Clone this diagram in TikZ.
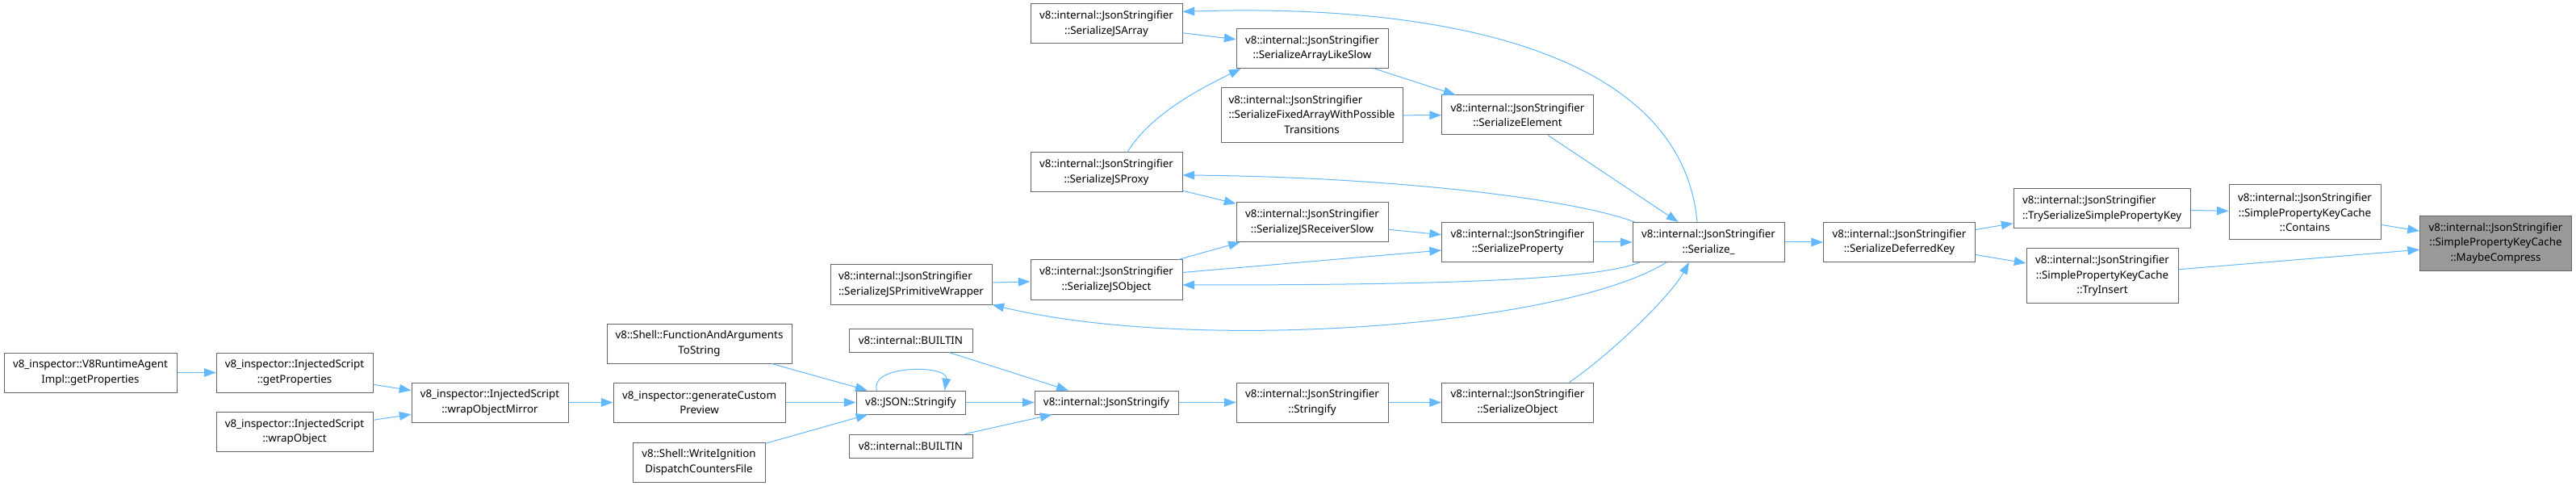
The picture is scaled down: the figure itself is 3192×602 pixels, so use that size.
\documentclass[tikz,border=0pt]{standalone}
\usepackage{fontspec}
\setmainfont{Noto Sans}
\usepackage{xcolor}
\usepackage{tikz}
\usetikzlibrary{arrows.meta,calc}

\definecolor{edgeblue}{HTML}{63B8FF}
\definecolor{boxgray}{HTML}{666666}
\definecolor{markgray}{HTML}{999999}

\begin{document}
\begin{tikzpicture}[
            x=0.75pt, y=-0.75pt,
            every node/.style={font=\fontsize{10}{14}\selectfont},
            nd/.style={draw=boxgray, fill=white, line width=0.75pt, align=center, inner sep=2pt, minimum width=141pt, minimum height=36.75pt},
            one/.style={minimum height=21.75pt},
            three/.style={minimum height=51pt},
            cur/.style={fill=markgray},
            ln/.style={draw=edgeblue, line width=0.75pt, -{Triangle[length=11pt,width=8pt]}},
        ]
            \useasboundingbox (0,0) rectangle (3192,602);
            % inspector / shell callers
            \node[nd, minimum width=160.5pt] (rta) at (112,461.5) {v8\_inspector::V8RuntimeAgent\\Impl::getProperties};
            \node[nd, minimum width=145.5pt] (isgp) at (365,461.5) {v8\_inspector::InjectedScript\\::getProperties};
            \node[nd, minimum width=145.5pt] (iswo) at (365,535) {v8\_inspector::InjectedScript\\::wrapObject};
            \node[nd, minimum width=145.5pt] (iswom) at (607,498.5) {v8\_inspector::InjectedScript\\::wrapObjectMirror};
            \node[nd, minimum width=171.75pt] (fats) at (866.5,425.5) {v8::Shell::FunctionAndArguments\\ToString};
            \node[nd, minimum width=159.75pt] (gcp) at (866.5,498.5) {v8\_inspector::generateCustom\\Preview};
            \node[nd, minimum width=123pt] (widc) at (866,572.5) {v8::Shell::WriteIgnition\\DispatchCountersFile};
            \node[nd, one, minimum width=101.25pt] (jsonstr) at (1128.5,498.5) {v8::JSON::Stringify};
            \node[nd, one, minimum width=114.75pt] (bia) at (1128.5,421.5) {v8::internal::BUILTIN};
            \node[nd, one, minimum width=114.75pt] (bib) at (1128.5,552.5) {v8::internal::BUILTIN};
            \node[nd, one, minimum width=133.5pt] (jstr) at (1371,498.5) {v8::internal::JsonStringify};
            % JsonStringifier
            \node[nd] (strf) at (1626,498.5) {v8::internal::JsonStringifier\\::Stringify};
            \node[nd] (sobj) at (1880.5,498.5) {v8::internal::JsonStringifier\\::SerializeObject};
            \node[nd, minimum width=150pt, align=left] (primwrap) at (1129,352.5) {v8::internal::JsonStringifier\\::SerializeJSPrimitiveWrapper};
            \node[nd] (jsobj) at (1371,346.5) {v8::internal::JsonStringifier\\::SerializeJSObject};
            \node[nd] (jsproxy) at (1371,213.5) {v8::internal::JsonStringifier\\::SerializeJSProxy};
            \node[nd] (jsarr) at (1371,29.5) {v8::internal::JsonStringifier\\::SerializeJSArray};
            \node[nd] (arrslow) at (1626,60) {v8::internal::JsonStringifier\\::SerializeArrayLikeSlow};
            \node[nd, three, minimum width=168.75pt] (fixarr) at (1625.5,143) {\begin{tabular}{@{}l@{}}v8::internal::JsonStringifier\\::SerializeFixedArrayWithPossible\\\multicolumn{1}{@{}c@{}}{Transitions}\end{tabular}};
            \node[nd] (rcvslow) at (1626,275) {v8::internal::JsonStringifier\\::SerializeJSReceiverSlow};
            \node[nd] (selem) at (1880.5,142.5) {v8::internal::JsonStringifier\\::SerializeElement};
            \node[nd] (sprop) at (1880.5,300) {v8::internal::JsonStringifier\\::SerializeProperty};
            \node[nd] (ser) at (2117,300) {v8::internal::JsonStringifier\\::Serialize\_};
            \node[nd] (sdk) at (2353.5,300) {v8::internal::JsonStringifier\\::SerializeDeferredKey};
            \node[nd, minimum width=164.25pt, align=left] (tsspk) at (2604.5,258.5) {v8::internal::JsonStringifier\\::TrySerializeSimplePropertyKey};
            \node[nd, three] (tryins) at (2605,341.5) {v8::internal::JsonStringifier\\::SimplePropertyKeyCache\\::TryInsert};
            \node[nd, three] (contains) at (2856,263) {v8::internal::JsonStringifier\\::SimplePropertyKeyCache\\::Contains};
            \node[nd, three, cur] (maybec) at (3092.5,301.5) {v8::internal::JsonStringifier\\::SimplePropertyKeyCache\\::MaybeCompress};
            % calls
            \draw[ln] (rta) -- (isgp);
            \draw[ln] (isgp) -- (iswom);
            \draw[ln] (iswo) -- (iswom);
            \draw[ln] (iswom) -- (gcp);
            \draw[ln] (fats) -- (jsonstr);
            \draw[ln] (gcp) -- (jsonstr);
            \draw[ln] (widc) -- (jsonstr);
            \draw[ln] ($(jsonstr.north)+(-42,0)$) .. controls +(-10,-32) and +(5,-32) .. ($(jsonstr.north)+(42,0)$);
            \draw[ln] (jsonstr) -- (jstr);
            \draw[ln] (bia) -- (jstr);
            \draw[ln] (bib) -- (jstr);
            \draw[ln] (jstr) -- (strf);
            \draw[ln] (strf) -- (sobj);
            \draw[ln] ($(sobj.north)+(64,0)$) .. controls +(45,-30) and +(-25,45) .. ($(ser.south)+(-24,0)$);
            \draw[ln] ($(ser.north)+(-14,0)$) .. controls +(-20,-220) and +(300,-10) .. ($(jsarr.east)+(0,-15)$);
            \draw[ln] (jsarr) -- (arrslow);
            \draw[ln] ($(jsproxy.north)+(26,0)$) .. controls +(30,-50) and +(-40,20) .. ($(arrslow.south west)+(6,0)$);
            \draw[ln] (arrslow) -- (selem);
            \draw[ln] (fixarr) -- (selem);
            \draw[ln] (selem) -- (ser);
            \draw[ln] ($(ser.north west)+(3,0)$) .. controls +(-80,-30) and +(250,2) .. ($(jsproxy.east)+(0,3.5)$);
            \draw[ln] (jsproxy) -- (rcvslow);
            \draw[ln] (jsobj) -- (rcvslow);
            \draw[ln] (rcvslow) -- (sprop);
            \draw[ln] ($(jsobj.east)+(0,-9)$) -- ($(sprop.west)+(0,10)$);
            \draw[ln] (sprop) -- (ser);
            \draw[ln] ($(ser.south west)+(9,0)$) .. controls +(-60,25) and +(250,0) .. ($(jsobj.east)+(0,6.5)$);
            \draw[ln] ($(ser.south)+(-52,0)$) .. controls +(-130,80) and +(250,60) .. (primwrap.south east);
            \draw[ln] (primwrap) -- (jsobj);
            \draw[ln] (ser) -- (sdk);
            \draw[ln] (sdk) -- (tsspk);
            \draw[ln] (sdk) -- (tryins);
            \draw[ln] (tsspk) -- (contains);
            \draw[ln] (contains) -- (maybec);
            \draw[ln] (tryins) -- (maybec);
        \end{tikzpicture}
\end{document}
